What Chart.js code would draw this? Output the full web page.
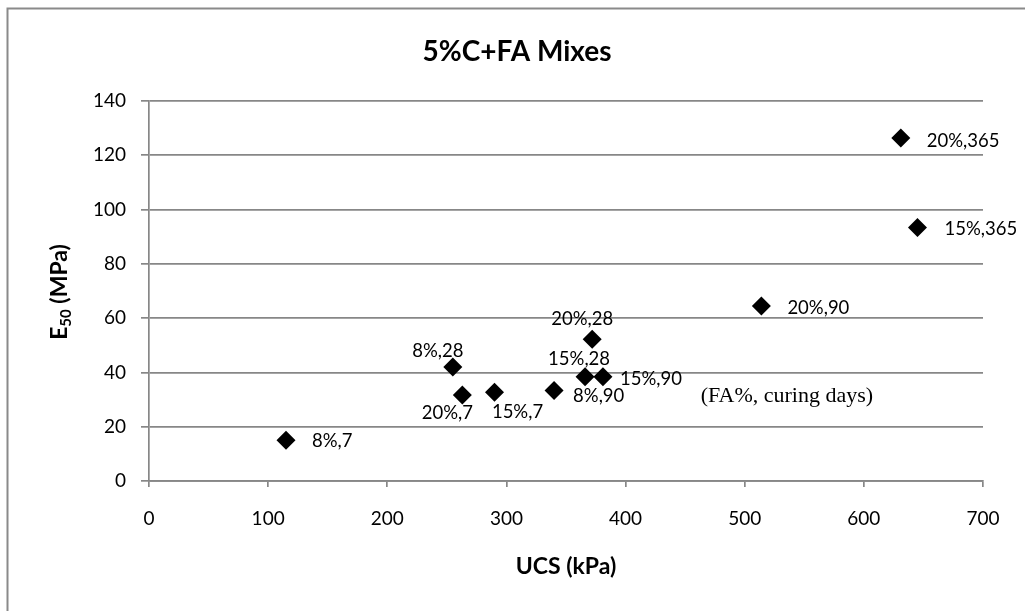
<!DOCTYPE html>
<html>
<head>
<meta charset="utf-8">
<script src="https://cdn.jsdelivr.net/npm/chart.js@4.4.0/dist/chart.umd.min.js"></script>
<style>
  html, body { margin: 0; padding: 0; background: #fff; }
  #wrap { width: 1025px; height: 611px; position: relative; }
</style>
</head>
<body>
<div id="wrap"><canvas id="scatterChart"></canvas></div>
<script>
// data
const ucs = [115, 255, 263, 290, 340, 366, 381, 372, 514, 631, 645];
const e50 = [15, 42, 31.7, 32.7, 33.3, 38.4, 38.4, 52.2, 64.5, 126.4, 93.4];
const pointLabels = ['8%,7', '8%,28', '20%,7', '15%,7', '8%,90', '15%,28', '15%,90', '20%,28', '20%,90', '20%,365', '15%,365'];
const xTicks = [0, 100, 200, 300, 400, 500, 600, 700];
const yTicks = [0, 20, 40, 60, 80, 100, 120, 140];

const chartTitle = '5%C+FA Mixes';
const xTitle = 'UCS (kPa)';
const note = '(FA%, curing days)';

// where each label sits relative to its point: [dx, dy, align]
const labelPlace = [
    [26, 1, 'left'], [-15, -16, 'center'], [-15, 18, 'center'], [23, 20, 'center'],
    [19, 5, 'left'], [-6, -18, 'center'], [17, 2, 'left'], [-10, -20, 'center'],
    [26, 2, 'left'], [26, 3, 'left'], [27, 2, 'left']
];

const gridGray = '#878787';
const labelFont = '18.5px Lato';

const extras = {
    id: 'extras',
    afterDraw(chart) {
        const c = chart.ctx;
        c.save();

        // outer frame
        c.strokeStyle = '#8a8a8a';
        c.lineWidth = 2;
        c.strokeRect(7.5, 8.5, 1040, 640);

        c.fillStyle = '#000';
        c.textBaseline = 'middle';

        // title
        c.font = 'bold 28px Lato';
        c.textAlign = 'center';
        c.fillText(chartTitle, 517, 52);

        // x title
        c.font = 'bold 23px Lato';
        c.fillText(xTitle, 566, 567);

        // y title with subscript
        c.save();
        c.translate(60, 292);
        c.rotate(-Math.PI / 2);
        c.textAlign = 'left';
        const big = 'bold 23px Lato';
        const small = 'bold 15px Lato';
        c.font = big;
        const wE = c.measureText('E').width;
        const wRest = c.measureText(' (MPa)').width;
        c.font = small;
        const wSub = c.measureText('50').width;
        const x0 = -(wE + wSub + wRest) / 2;
        c.font = big;
        c.fillText('E', x0, 0);
        c.font = small;
        c.fillText('50', x0 + wE, 6);
        c.font = big;
        c.fillText(' (MPa)', x0 + wE + wSub, 0);
        c.restore();

        // point labels
        c.font = labelFont;
        const meta = chart.getDatasetMeta(0);
        meta.data.forEach((pt, i) => {
            const p = labelPlace[i];
            c.textAlign = p[2];
            c.fillText(pointLabels[i], pt.x + p[0], pt.y + p[1]);
        });

        // note
        c.font = '22px "Liberation Serif"';
        c.textAlign = 'left';
        const xs = chart.scales.x, ys = chart.scales.y;
        c.fillText(note, xs.getPixelForValue(463), ys.getPixelForValue(31.3));

        c.restore();
    }
};

const ctx = document.getElementById('scatterChart').getContext('2d');
const chart = new Chart(ctx, {
    type: 'scatter',
    data: {
        datasets: [{
            label: 'E50',
            data: ucs.map((u, i) => ({ x: u, y: e50[i] })),
            pointStyle: 'rectRot',
            pointRadius: 9.5,
            pointHoverRadius: 9.5,
            backgroundColor: '#000',
            borderColor: '#000',
            borderWidth: 0
        }]
    },
    options: {
        responsive: true,
        maintainAspectRatio: false,
        animation: false,
        layout: {
            padding: { top: 101, right: 42, bottom: 0, left: 0 }
        },
        plugins: {
            legend: { display: false },
            tooltip: { enabled: false },
            title: { display: false }
        },
        scales: {
            x: {
                type: 'linear',
                min: xTicks[0],
                max: xTicks[xTicks.length - 1],
                afterBuildTicks: s => { s.ticks = xTicks.map(v => ({ value: v })); },
                afterFit: s => { s.height = 130; },
                grid: {
                    drawOnChartArea: false,
                    drawTicks: true,
                    tickLength: 6,
                    color: gridGray,
                    lineWidth: 1.7
                },
                border: { display: true, color: gridGray, width: 1.7 },
                ticks: {
                    color: '#000',
                    font: { family: 'Lato', size: 19 },
                    padding: 20,
                    maxRotation: 0
                }
            },
            y: {
                type: 'linear',
                min: yTicks[0],
                max: yTicks[yTicks.length - 1],
                afterBuildTicks: s => { s.ticks = yTicks.map(v => ({ value: v })); },
                afterFit: s => { s.width = 149; },
                grid: {
                    drawOnChartArea: true,
                    drawTicks: true,
                    tickLength: 8,
                    color: gridGray,
                    lineWidth: 1.7
                },
                border: { display: true, color: gridGray, width: 1.7 },
                ticks: {
                    color: '#000',
                    font: { family: 'Lato', size: 19 },
                    padding: 15
                }
            }
        }
    },
    plugins: [extras]
});
</script>
</body>
</html>
